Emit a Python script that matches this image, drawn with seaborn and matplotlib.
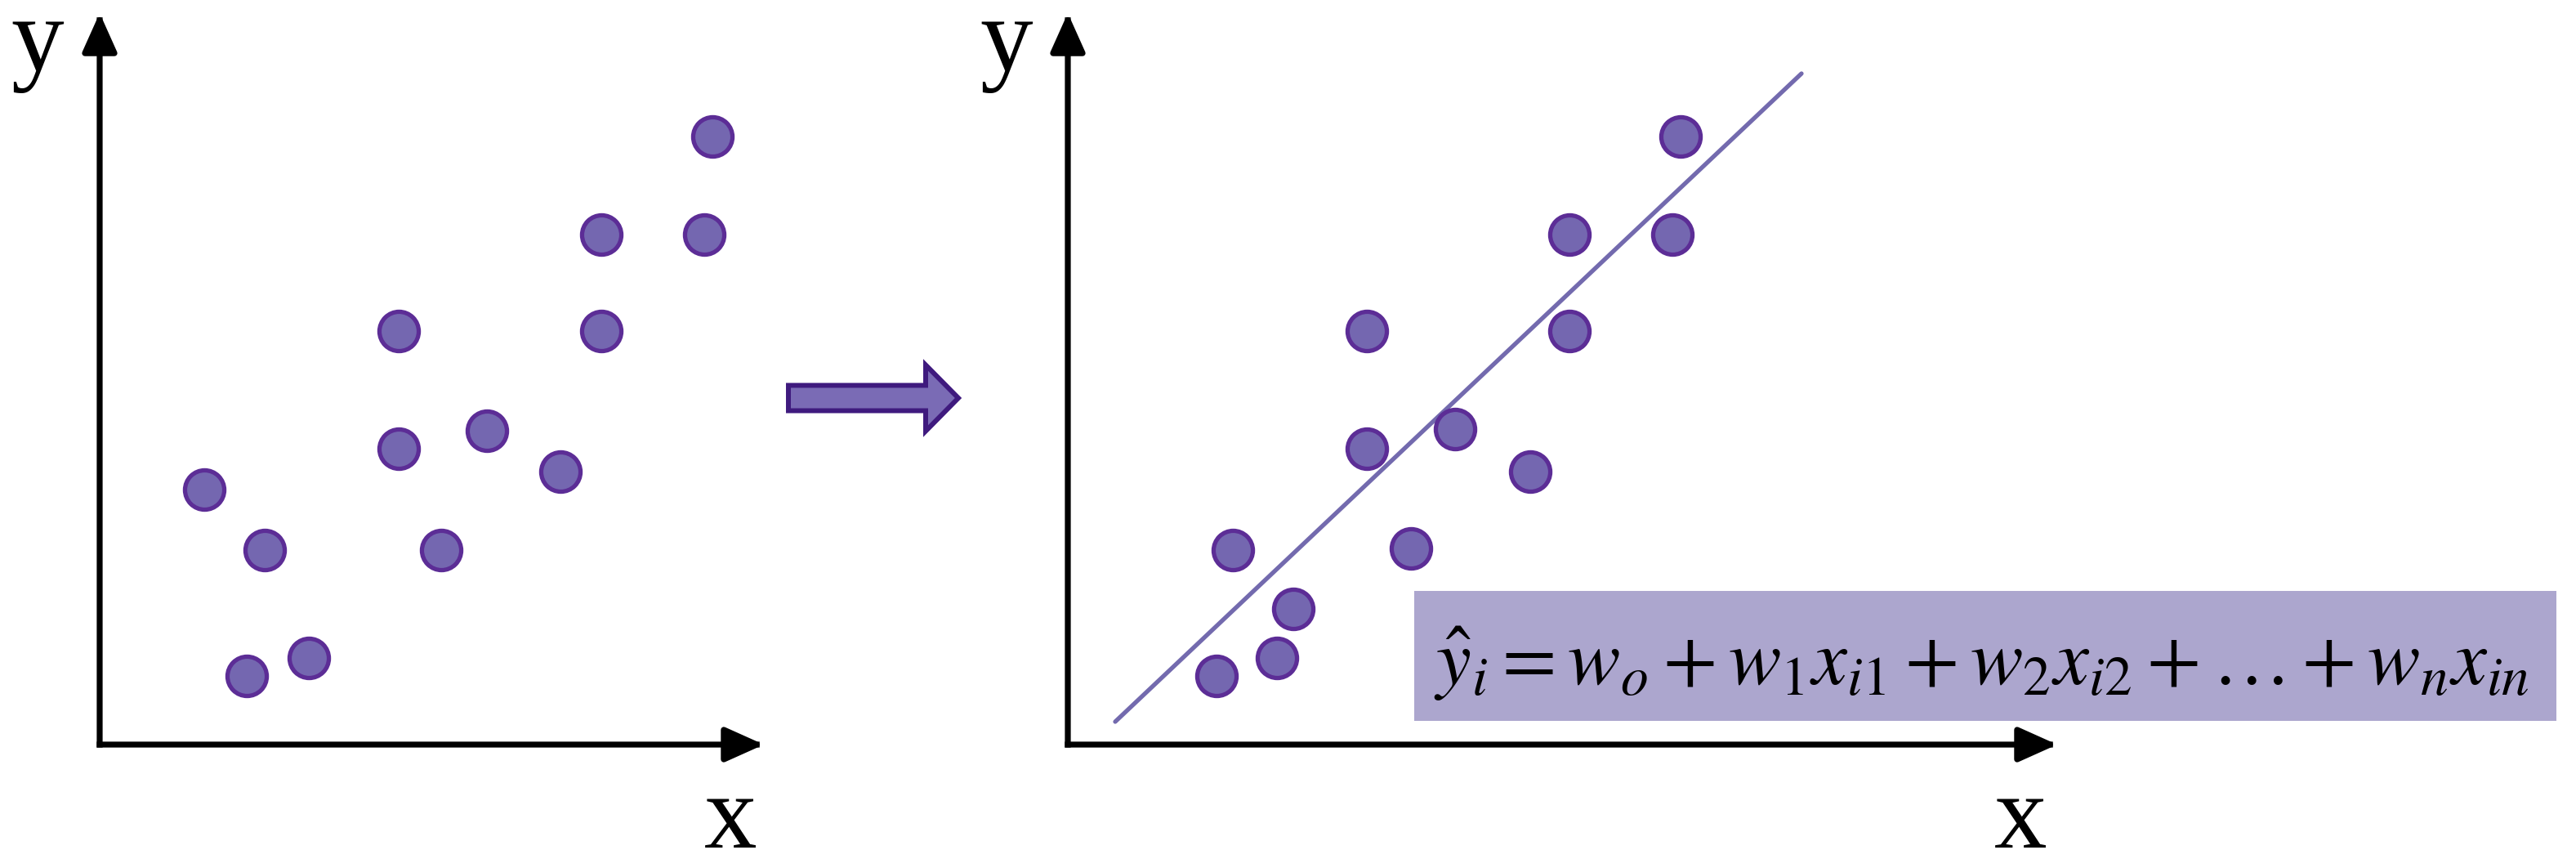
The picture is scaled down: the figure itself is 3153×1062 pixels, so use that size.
import matplotlib
matplotlib.use("Agg")
import matplotlib.pyplot as plt
import seaborn as sns
from matplotlib.patches import Rectangle, FancyArrow

# >> data (1 unit = 20 px of the full-size image)
left_x = [6.4, 9.0, 10.1, 12.8, 18.3, 18.3, 23.7, 20.9, 28.2, 30.7, 30.7, 37.0, 37.5]
left_y = [15.6, 4.2, 11.9, 5.3, 18.1, 25.3, 19.2, 11.9, 16.7, 31.2, 25.3, 31.2, 37.2]

right_x = [9.1, 12.8, 13.8, 10.1, 18.3, 18.3, 23.7, 21.0, 28.3, 30.7, 30.7, 37.0, 37.5]
right_y = [4.2, 5.3, 8.3, 11.9, 18.1, 25.3, 19.3, 12.0, 16.7, 31.2, 25.3, 31.2, 37.2]

# fitted line, two ends
line_x = [2.9, 44.9]
line_y = [1.4, 41.05]

left_lim = (40.65, 44.75)
right_lim = (60.55, 44.75)

formula = r"$\hat{y}_i = w_o + w_1 x_{i1} + w_2 x_{i2} + \ldots + w_n x_{in}$"

dot_fill = "#7467b0"
dot_edge = "#5c2d96"
line_col = "#736aae"
box_col = "#aca6ce"

sns.set_style("white")
plt.rcParams["font.family"] = ["Liberation Serif", "DejaVu Serif"]
plt.rcParams["mathtext.fontset"] = "stix"
plt.rcParams["text.color"] = "black"

W, H = 3153, 1062
fig = plt.figure(figsize=(W / 100, H / 100), dpi=100)

ax_l = fig.add_axes([122 / W, 151 / H, 813 / W, 895 / H])
ax_r = fig.add_axes([1307 / W, 151 / H, 1211 / W, 895 / H])


def draw_axes(ax, lim):
    ax.set_xlim(0, lim[0])
    ax.set_ylim(0, lim[1])
    ax.set_xticks([])
    ax.set_yticks([])
    for s in ax.spines.values():
        s.set_visible(False)
    ax.patch.set_alpha(0)
    style = "-|>,head_length=2.9,head_width=1.3"
    for end in [(1, 0), (0, 1)]:
        ax.annotate("", xy=end, xytext=(0, 0), xycoords="axes fraction",
                    arrowprops=dict(arrowstyle=style, color="black", lw=5.2,
                                    mutation_scale=10, shrinkA=0, shrinkB=0,
                                    capstyle="projecting"),
                    annotation_clip=False)


draw_axes(ax_l, left_lim)
draw_axes(ax_r, right_lim)

sns.scatterplot(x=left_x, y=left_y, ax=ax_l, s=1200, color=dot_fill,
                edgecolor=dot_edge, linewidth=3.8, clip_on=False, zorder=3)
sns.scatterplot(x=right_x, y=right_y, ax=ax_r, s=1200, color=dot_fill,
                edgecolor=dot_edge, linewidth=3.8, clip_on=False, zorder=3)
sns.lineplot(x=line_x, y=line_y, ax=ax_r, color=line_col, lw=3.8, zorder=2)

# axis letters
for xpos in [46, 1232]:
    fig.text(xpos / W, 1 - 86 / H, "y", fontsize=93, ha="center", va="baseline")
for xpos in [894, 2473]:
    fig.text(xpos / W, 1 - 1037 / H, "x", fontsize=93, ha="center", va="baseline")

# arrow between the panels
fig.patches.append(FancyArrow(965 / W, 1 - 487 / H, 208 / W, 0, width=31 / H,
                              head_width=81 / H, head_length=40 / W,
                              length_includes_head=True, transform=fig.transFigure,
                              facecolor="#7a6bb5", edgecolor="#3f1a7e", lw=4.3))

# formula box
fig.patches.append(Rectangle((1731 / W, 1 - 882 / H), 1398 / W, 159 / H,
                             transform=fig.transFigure, facecolor=box_col,
                             edgecolor="none", zorder=1))
fig.text(2425 / W, 1 - 812 / H, formula, fontsize=69.5, ha="center", va="center")

fig.savefig("out.png", dpi=100)
